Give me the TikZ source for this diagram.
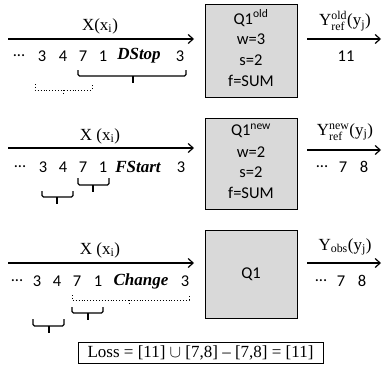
\documentclass[tikz,border=0pt]{standalone}
\usepackage{fontspec}
\usepackage{amsmath}
\setmainfont{Liberation Serif}
\newfontfamily\calibfont{Carlito}
\usetikzlibrary{arrows.meta}
\definecolor{boxgray}{HTML}{D9D9D9}
\begin{document}
\begin{tikzpicture}[x=1pt,y=-1pt,
  num/.style={font=\calibfont\fontsize{16.5}{19}\selectfont, inner sep=0pt},
  lab/.style={font=\fontsize{17}{20}\selectfont, inner sep=0pt},
  kw/.style={font=\fontsize{17}{20}\selectfont\bfseries\itshape, inner sep=0pt},
  qbox/.style={draw, line width=1.2pt, fill=boxgray, minimum width=92pt, inner sep=0pt},
  flow/.style={line width=1.2pt, -{Straight Barb[length=5pt,width=9pt]}},
  brk/.style={line width=1.2pt, rounded corners=1.5pt},
  dotbrk/.style={line width=0.9pt, dotted}]
\useasboundingbox (0,0) rectangle (382,378);

% ---------- row 1 ----------
\node[qbox, minimum height=93pt, anchor=north west] (b1) at (205,4) {};
\node[num] (b1q) at (251,18) {Q1\textsuperscript{old}};
\node[num] (b1w) at (251,39) {w=3};
\node[num] (b1s) at (251,60) {s=2};
\node[num] (b1f) at (251,81) {f=SUM};
\coordinate (i1s) at (8,39); \coordinate (i1e) at (194,39);
\draw[flow] (i1s) -- (i1e);
\node[lab] (x1) at (100,26) {X(x$_{\text{i}}$)};
\node[num] (r1a) at (19,56) {...};
\node[num] (r1b) at (42,56) {3};
\node[num] (r1c) at (63,56) {4};
\node[num] (r1d) at (83,56) {7};
\node[num] (r1e) at (103,56) {1};
\node[kw]  (r1f) at (139,56) {DStop};
\node[num] (r1g) at (180,56) {3};
\draw[brk] (78,70) -- (78,76) -- (186,76) -- (186,70);
\draw[line width=1.2pt] (133,76) -- (133,83);
\draw[dotbrk] (35,84) -- (35,90) -- (92,90) -- (92,84);
\draw[dotbrk] (63,90) -- (63,94);
\coordinate (o1s) at (307,39); \coordinate (o1e) at (381,39);
\draw[flow] (o1s) -- (o1e);
\node[lab] (y1) at (345,21) {Y$^{\text{old}}_{\text{ref}}$(y$_{\text{j}}$)};
\node[num] (v1) at (346,56) {11};

% ---------- row 2 ----------
\node[qbox, minimum height=91pt, anchor=north west] (b2) at (205,118) {};
\node[num] (b2q) at (251,131) {Q1\textsuperscript{new}};
\node[num] (b2w) at (251,152) {w=2};
\node[num] (b2s) at (251,172) {s=2};
\node[num] (b2f) at (251,193) {f=SUM};
\coordinate (i2s) at (8,148); \coordinate (i2e) at (194,148);
\draw[flow] (i2s) -- (i2e);
\node[lab] (x2) at (100,136) {X (x$_{\text{i}}$)};
\node[num] (r2a) at (20,167) {...};
\node[num] (r2b) at (43,167) {3};
\node[num] (r2c) at (63,167) {4};
\node[num] (r2d) at (83,167) {7};
\node[num] (r2e) at (103,167) {1};
\node[kw]  (r2f) at (138,167) {FStart};
\node[num] (r2g) at (181,167) {3};
\draw[brk] (78,178) -- (78,185) -- (109,185) -- (109,178);
\draw[line width=1.2pt] (93,185) -- (93,192);
\draw[brk] (42,191) -- (42,197) -- (73,197) -- (73,191);
\draw[line width=1.2pt] (57,197) -- (57,204);
\coordinate (o2s) at (307,150); \coordinate (o2e) at (381,150);
\draw[flow] (o2s) -- (o2e);
\node[lab] (y2) at (345,132) {Y$^{\text{new}}_{\text{ref}}$(y$_{\text{j}}$)};
\node[num] (v2a) at (322,167) {...};
\node[num] (v2b) at (343,167) {7};
\node[num] (v2c) at (364,167) {8};

% ---------- row 3 ----------
\node[qbox, minimum height=88pt, anchor=north west] (b3) at (205,230) {};
\node[num] (b3q) at (251,274) {Q1};
\coordinate (i3s) at (8,263); \coordinate (i3e) at (194,263);
\draw[flow] (i3s) -- (i3e);
\node[lab] (x3) at (100,250) {X (x$_{\text{i}}$)};
\node[num] (r3a) at (17,281) {...};
\node[num] (r3b) at (37,281) {3};
\node[num] (r3c) at (57,281) {4};
\node[num] (r3d) at (77,281) {7};
\node[num] (r3e) at (98,281) {1};
\node[kw]  (r3f) at (141,281) {Change};
\node[num] (r3g) at (185,281) {3};
\draw[dotbrk] (72,295) -- (72,300) -- (189,300) -- (189,295);
\draw[dotbrk] (129,300) -- (129,305);
\draw[brk] (72,307) -- (72,313) -- (103,313) -- (103,307);
\draw[line width=1.2pt] (88,313) -- (88,320);
\draw[brk] (33,319) -- (33,326) -- (64,326) -- (64,319);
\draw[line width=1.2pt] (49,326) -- (49,333);
\coordinate (o3s) at (307,263); \coordinate (o3e) at (381,263);
\draw[flow] (o3s) -- (o3e);
\node[lab] (y3) at (345,247) {Y$_{\text{obs}}$(y$_{\text{j}}$)};
\node[num] (v3a) at (321,281) {...};
\node[num] (v3b) at (341,281) {7};
\node[num] (v3c) at (362,281) {8};

% ---------- loss ----------
\node[draw, line width=0.8pt, minimum width=245pt, minimum height=21pt, inner sep=0pt,
      font=\fontsize{17}{20}\selectfont] (loss) at (200.5,353)
      {Loss = [11] $\cup$ [7,8] -- [7,8] = [11]};
\end{tikzpicture}
\end{document}
